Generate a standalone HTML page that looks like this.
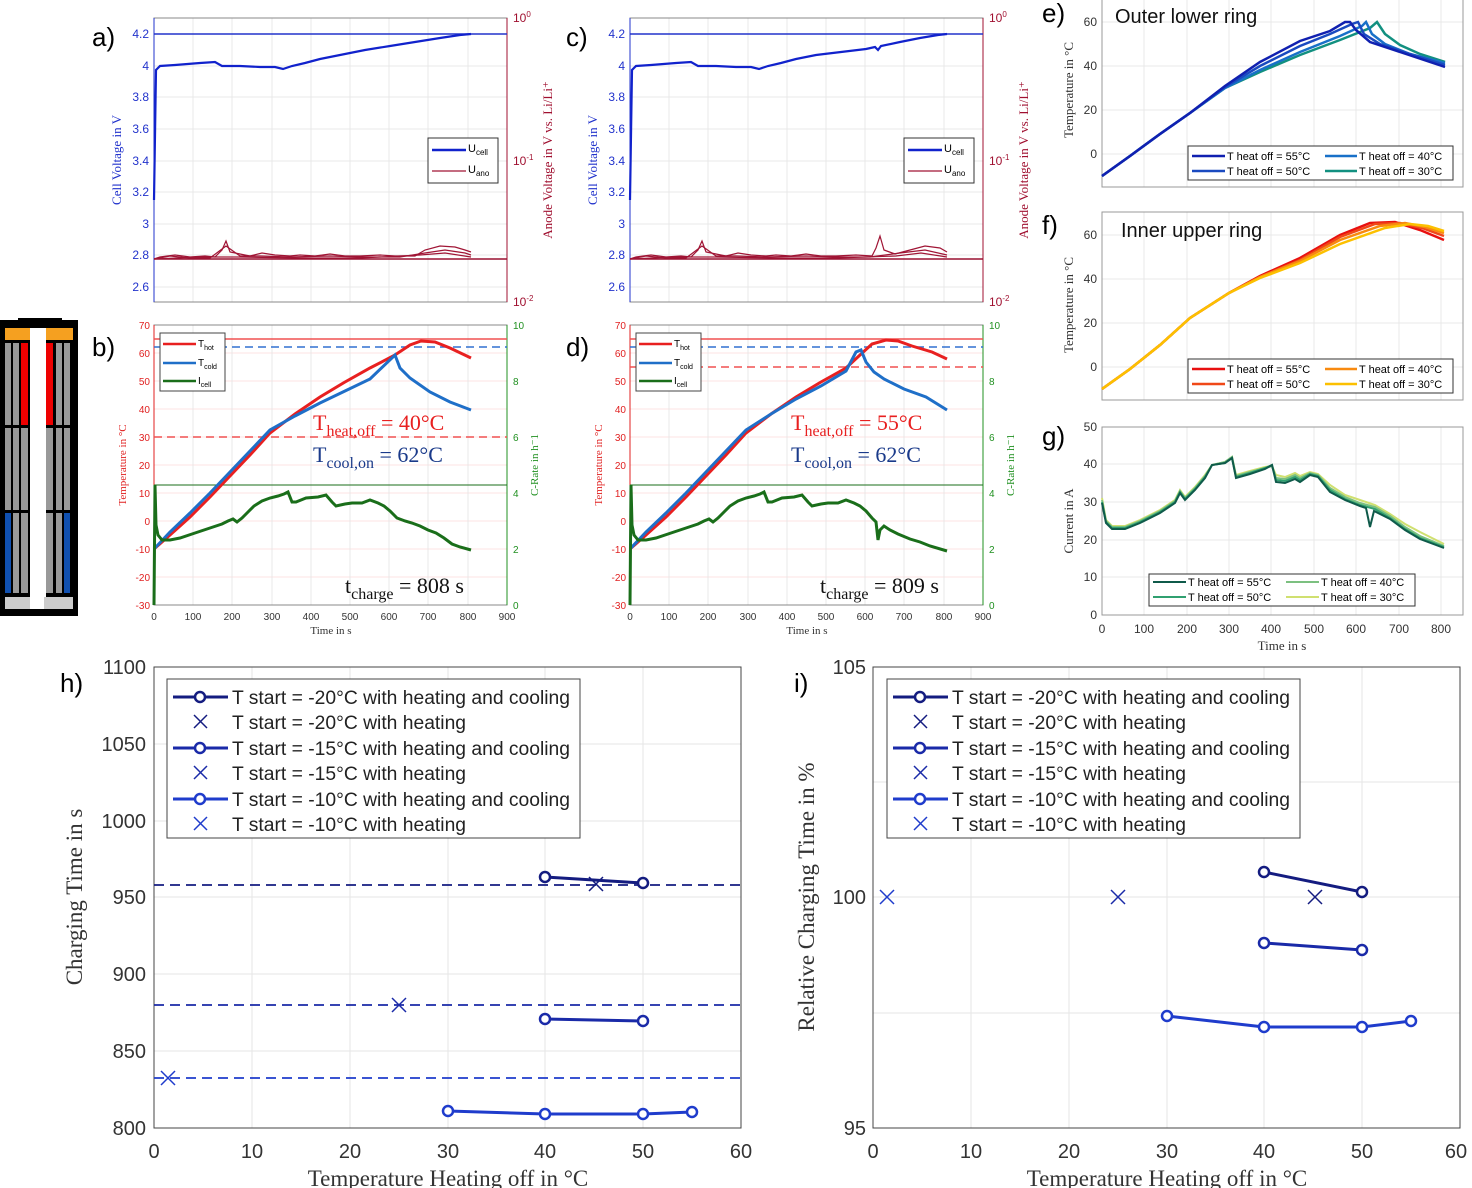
<!DOCTYPE html><html><head><meta charset="utf-8"><style>body{margin:0;background:#fff}svg{display:block;font-family:"Liberation Sans",sans-serif}</style></head><body>
<svg width="1472" height="1188" viewBox="0 0 1472 1188" xmlns="http://www.w3.org/2000/svg">
<!-- battery icon -->
<g>
<rect x="0" y="320" width="78" height="296" fill="#000"/>
<rect x="18" y="318" width="44" height="8" fill="#000"/>
<rect x="5" y="328" width="68" height="12" fill="#f5a020"/>
<rect x="30" y="328" width="16" height="280" fill="#fff"/>
<g fill="#999">
<rect x="5" y="343" width="6" height="82"/><rect x="13" y="343" width="6" height="82"/><rect x="21" y="343" width="7" height="82" fill="#e00"/>
<rect x="46" y="343" width="7" height="82" fill="#e00"/><rect x="56" y="343" width="6" height="82"/><rect x="64" y="343" width="6" height="82"/>
<rect x="5" y="428" width="6" height="82"/><rect x="13" y="428" width="6" height="82"/><rect x="21" y="428" width="7" height="82"/>
<rect x="46" y="428" width="7" height="82"/><rect x="56" y="428" width="6" height="82"/><rect x="64" y="428" width="6" height="82"/>
<rect x="5" y="513" width="6" height="80" fill="#1050b0"/><rect x="13" y="513" width="6" height="80"/><rect x="21" y="513" width="7" height="80"/>
<rect x="46" y="513" width="7" height="80"/><rect x="56" y="513" width="6" height="80"/><rect x="64" y="513" width="6" height="80" fill="#1050b0"/>
</g>
<rect x="5" y="597" width="68" height="12" fill="#ccc"/>
<rect x="30" y="597" width="14" height="12" fill="#fff"/>
</g>

<!-- panel a -->
<g>
<g stroke="#e8e8e8" stroke-width="1">
<path d="M193 18V302M232 18V302M272 18V302M311 18V302M350 18V302M389 18V302M428 18V302M468 18V302"/>
<path d="M154 66H507M154 97H507M154 129H507M154 161H507M154 192H507M154 224H507M154 255H507M154 287H507"/>
</g>
<rect x="154" y="18" width="353" height="284" fill="none" stroke="#888"/>
<line x1="154" y1="18" x2="154" y2="302" stroke="#2233cc"/>
<line x1="507" y1="18" x2="507" y2="302" stroke="#a01030"/>
<g font-size="12" fill="#2233cc" text-anchor="end"><text x="149" y="38">4.2</text><text x="149" y="70">4</text><text x="149" y="101">3.8</text><text x="149" y="133">3.6</text><text x="149" y="165">3.4</text><text x="149" y="196">3.2</text><text x="149" y="228">3</text><text x="149" y="259">2.8</text><text x="149" y="291">2.6</text></g>
<text transform="translate(121,160) rotate(-90)" font-size="13" fill="#2233cc" text-anchor="middle" font-family="Liberation Serif">Cell Voltage in V</text>
<g font-size="12" fill="#a01030"><text x="513" y="22">10<tspan font-size="8" dy="-5">0</tspan></text><text x="513" y="165">10<tspan font-size="8" dy="-5">-1</tspan></text><text x="513" y="306">10<tspan font-size="8" dy="-5">-2</tspan></text></g>
<text transform="translate(552,160) rotate(-90)" font-size="13" fill="#a01030" text-anchor="middle" font-family="Liberation Serif">Anode Voltage in V vs. Li/Li⁺</text>
<line x1="154" y1="34" x2="507" y2="34" stroke="#2233cc" stroke-width="1.5"/>
<polyline fill="none" stroke="#1122cc" stroke-width="2.2" points="154,200 156,70 160,66 175,65 200,63 215,62 222,66 240,66 260,67 275,67 283,69 292,66 305,63 320,59 340,55 365,50 390,46 415,42 440,38 460,35 471,34"/>
<line x1="154" y1="259" x2="507" y2="259" stroke="#9a1030" stroke-width="1.5"/>
<polyline fill="none" stroke="#a01535" stroke-width="1.2" points="154,259 160,257 175,255 190,257 205,256 215,257 222,250 226,241 230,252 240,254 250,256 262,253 275,255 290,256 300,255 315,256 330,254 345,256 360,256 380,255 395,256 415,256 425,250 440,246 455,247 465,250 471,252"/>
<polyline fill="none" stroke="#a01535" stroke-width="1.2" points="154,259 170,256 190,258 210,258 226,246 240,256 260,256 290,257 330,256 360,257 400,257 425,253 445,250 465,253 471,255"/>
<polyline fill="none" stroke="#a01535" stroke-width="1.2" points="154,259 200,257 240,257 300,258 360,258 420,255 445,253 471,257"/>
<rect x="428" y="138" width="70" height="45" fill="#fff" stroke="#333"/>
<line x1="432" y1="150" x2="466" y2="150" stroke="#1122cc" stroke-width="2.5"/><text x="468" y="152" font-size="11">U<tspan font-size="8" dy="3">cell</tspan></text>
<line x1="432" y1="171" x2="466" y2="171" stroke="#a01535" stroke-width="1.2"/><text x="468" y="173" font-size="11">U<tspan font-size="8" dy="3">ano</tspan></text>
</g>
<text x="92" y="46" font-size="26">a)</text>

<!-- panel c -->
<g>
<g stroke="#e8e8e8" stroke-width="1">
<path d="M669 18V302M708 18V302M748 18V302M787 18V302M826 18V302M865 18V302M904 18V302M944 18V302"/>
<path d="M630 66H983M630 97H983M630 129H983M630 161H983M630 192H983M630 224H983M630 255H983M630 287H983"/>
</g>
<rect x="630" y="18" width="353" height="284" fill="none" stroke="#888"/>
<line x1="630" y1="18" x2="630" y2="302" stroke="#2233cc"/>
<line x1="983" y1="18" x2="983" y2="302" stroke="#a01030"/>
<g font-size="12" fill="#2233cc" text-anchor="end"><text x="625" y="38">4.2</text><text x="625" y="70">4</text><text x="625" y="101">3.8</text><text x="625" y="133">3.6</text><text x="625" y="165">3.4</text><text x="625" y="196">3.2</text><text x="625" y="228">3</text><text x="625" y="259">2.8</text><text x="625" y="291">2.6</text></g>
<text transform="translate(597,160) rotate(-90)" font-size="13" fill="#2233cc" text-anchor="middle" font-family="Liberation Serif">Cell Voltage in V</text>
<g font-size="12" fill="#a01030"><text x="989" y="22">10<tspan font-size="8" dy="-5">0</tspan></text><text x="989" y="165">10<tspan font-size="8" dy="-5">-1</tspan></text><text x="989" y="306">10<tspan font-size="8" dy="-5">-2</tspan></text></g>
<text transform="translate(1028,160) rotate(-90)" font-size="13" fill="#a01030" text-anchor="middle" font-family="Liberation Serif">Anode Voltage in V vs. Li/Li⁺</text>
<line x1="630" y1="34" x2="983" y2="34" stroke="#2233cc" stroke-width="1.5"/>
<polyline fill="none" stroke="#1122cc" stroke-width="2.2" points="630,200 632,70 636,66 651,65 676,63 691,62 698,66 716,66 736,67 751,67 759,69 768,66 781,63 796,59 816,55 841,52 866,49 875,47 878,50 881,46 900,42 920,38 938,35 947,34"/>
<line x1="630" y1="259" x2="983" y2="259" stroke="#9a1030" stroke-width="1.5"/>
<polyline fill="none" stroke="#a01535" stroke-width="1.2" points="630,259 636,257 651,255 666,257 681,256 691,257 698,250 702,241 706,252 716,254 726,256 738,253 751,255 766,256 776,255 791,256 806,254 821,256 836,256 856,255 872,256 876,248 880,236 884,250 895,254 910,250 925,246 940,248 947,252"/>
<polyline fill="none" stroke="#a01535" stroke-width="1.2" points="630,259 646,256 666,258 686,258 702,246 716,256 736,256 766,257 806,256 836,257 870,257 900,253 925,250 947,255"/>
<polyline fill="none" stroke="#a01535" stroke-width="1.2" points="630,259 676,257 716,257 776,258 836,258 896,256 921,253 947,257"/>
<rect x="904" y="138" width="70" height="45" fill="#fff" stroke="#333"/>
<line x1="908" y1="150" x2="942" y2="150" stroke="#1122cc" stroke-width="2.5"/><text x="944" y="152" font-size="11">U<tspan font-size="8" dy="3">cell</tspan></text>
<line x1="908" y1="171" x2="942" y2="171" stroke="#a01535" stroke-width="1.2"/><text x="944" y="173" font-size="11">U<tspan font-size="8" dy="3">ano</tspan></text>
</g>
<text x="566" y="46" font-size="26">c)</text>

<!-- panel b -->
<g>
<g stroke="#fde3e3" stroke-width="1">
<path d="M154 353H507M154 381H507M154 409H507M154 437H507M154 465H507M154 493H507M154 521H507M154 549H507M154 577H507"/>
</g>
<g stroke="#e8e8e8"><path d="M193 325V605M232 325V605M272 325V605M311 325V605M350 325V605M389 325V605M428 325V605M468 325V605"/></g>
<rect x="154" y="325" width="353" height="280" fill="none" stroke="#888"/>
<line x1="154" y1="325" x2="154" y2="605" stroke="#e02020"/>
<line x1="507" y1="325" x2="507" y2="605" stroke="#209020"/>
<g font-size="10" fill="#e02020" text-anchor="end"><text x="150" y="329">70</text><text x="150" y="357">60</text><text x="150" y="385">50</text><text x="150" y="413">40</text><text x="150" y="441">30</text><text x="150" y="469">20</text><text x="150" y="497">10</text><text x="150" y="525">0</text><text x="150" y="553">-10</text><text x="150" y="581">-20</text><text x="150" y="609">-30</text></g>
<g font-size="10" fill="#209020"><text x="513" y="329">10</text><text x="513" y="385">8</text><text x="513" y="441">6</text><text x="513" y="497">4</text><text x="513" y="553">2</text><text x="513" y="609">0</text></g>
<g font-size="10" fill="#333" text-anchor="middle"><text x="154" y="620">0</text><text x="193" y="620">100</text><text x="232" y="620">200</text><text x="272" y="620">300</text><text x="311" y="620">400</text><text x="350" y="620">500</text><text x="389" y="620">600</text><text x="428" y="620">700</text><text x="468" y="620">800</text><text x="507" y="620">900</text></g>
<text x="331" y="634" font-size="11" text-anchor="middle" font-family="Liberation Serif" fill="#333">Time in s</text>
<text transform="translate(126,465) rotate(-90)" font-size="11" fill="#e02020" text-anchor="middle" font-family="Liberation Serif">Temperature in °C</text>
<text transform="translate(538,465) rotate(-90)" font-size="11" fill="#209020" text-anchor="middle" font-family="Liberation Serif">C-Rate in h⁻1</text>
<line x1="154" y1="339" x2="507" y2="339" stroke="#f05050" stroke-width="1.5"/>
<line x1="154" y1="347" x2="507" y2="347" stroke="#3070d0" stroke-width="1.5" stroke-dasharray="8,5"/>
<line x1="154" y1="437" x2="507" y2="437" stroke="#f05050" stroke-width="1.5" stroke-dasharray="8,5"/>
<line x1="154" y1="485" x2="507" y2="485" stroke="#1a6e1a" stroke-width="1"/>
<polyline fill="none" stroke="#e82020" stroke-width="3" points="154,549 170,535 190,517 210,497 230,476 250,455 270,433 295,414 320,397 345,382 370,368 395,355 410,345 421,341 435,342 450,348 471,358"/>
<polyline fill="none" stroke="#1f6fc8" stroke-width="3" points="154,549 170,532 190,513 210,493 230,472 250,451 270,430 295,416 320,403 345,391 370,379 395,355 400,368 410,378 430,392 450,402 471,410"/>
<polyline fill="none" stroke="#1a6e1a" stroke-width="3" points="154,605 155,485 156,525 158,535 162,540 170,540 180,538 195,533 210,528 222,524 228,521 233,519 237,522 242,518 248,512 254,506 262,501 270,498 278,496 284,494 288,492 292,502 296,502 306,498 318,497 326,495 332,502 336,506 345,504 352,503 362,503 370,500 378,503 384,506 390,511 397,518 405,521 412,523 420,526 428,530 436,533 444,538 452,544 460,547 471,550"/>
<rect x="160" y="333" width="65" height="58" fill="#fff" stroke="#444"/>
<line x1="163" y1="344" x2="196" y2="344" stroke="#e82020" stroke-width="2.5"/><text x="198" y="347" font-size="10">T<tspan font-size="7" dy="3">hot</tspan></text>
<line x1="163" y1="363" x2="196" y2="363" stroke="#1f6fc8" stroke-width="2.5"/><text x="198" y="366" font-size="10">T<tspan font-size="7" dy="3">cold</tspan></text>
<line x1="163" y1="381" x2="196" y2="381" stroke="#1a6e1a" stroke-width="2.5"/><text x="198" y="384" font-size="10">I<tspan font-size="7" dy="3">cell</tspan></text>
<text x="313" y="430" font-size="22" fill="#e82020" font-family="Liberation Serif">T<tspan font-size="16" dy="6">heat,off</tspan><tspan dy="-6"> = 40°C</tspan></text>
<text x="313" y="462" font-size="22" fill="#1a3a8a" font-family="Liberation Serif">T<tspan font-size="16" dy="6">cool,on</tspan><tspan dy="-6"> = 62°C</tspan></text>
<text x="345" y="593" font-size="22" fill="#111" font-family="Liberation Serif">t<tspan font-size="16" dy="6">charge</tspan><tspan dy="-6"> = 808 s</tspan></text>
</g>
<text x="92" y="356" font-size="26">b)</text>

<!-- panel d -->
<g>
<g stroke="#fde3e3"><path d="M630 353H983M630 381H983M630 409H983M630 437H983M630 465H983M630 493H983M630 521H983M630 549H983M630 577H983"/></g>
<g stroke="#e8e8e8"><path d="M669 325V605M708 325V605M748 325V605M787 325V605M826 325V605M865 325V605M904 325V605M944 325V605"/></g>
<rect x="630" y="325" width="353" height="280" fill="none" stroke="#888"/>
<line x1="630" y1="325" x2="630" y2="605" stroke="#e02020"/>
<line x1="983" y1="325" x2="983" y2="605" stroke="#209020"/>
<g font-size="10" fill="#e02020" text-anchor="end"><text x="626" y="329">70</text><text x="626" y="357">60</text><text x="626" y="385">50</text><text x="626" y="413">40</text><text x="626" y="441">30</text><text x="626" y="469">20</text><text x="626" y="497">10</text><text x="626" y="525">0</text><text x="626" y="553">-10</text><text x="626" y="581">-20</text><text x="626" y="609">-30</text></g>
<g font-size="10" fill="#209020"><text x="989" y="329">10</text><text x="989" y="385">8</text><text x="989" y="441">6</text><text x="989" y="497">4</text><text x="989" y="553">2</text><text x="989" y="609">0</text></g>
<g font-size="10" fill="#333" text-anchor="middle"><text x="630" y="620">0</text><text x="669" y="620">100</text><text x="708" y="620">200</text><text x="748" y="620">300</text><text x="787" y="620">400</text><text x="826" y="620">500</text><text x="865" y="620">600</text><text x="904" y="620">700</text><text x="944" y="620">800</text><text x="983" y="620">900</text></g>
<text x="807" y="634" font-size="11" text-anchor="middle" font-family="Liberation Serif" fill="#333">Time in s</text>
<text transform="translate(602,465) rotate(-90)" font-size="11" fill="#e02020" text-anchor="middle" font-family="Liberation Serif">Temperature in °C</text>
<text transform="translate(1014,465) rotate(-90)" font-size="11" fill="#209020" text-anchor="middle" font-family="Liberation Serif">C-Rate in h⁻1</text>
<line x1="630" y1="339" x2="983" y2="339" stroke="#f05050" stroke-width="1.5"/>
<line x1="630" y1="347" x2="983" y2="347" stroke="#3070d0" stroke-width="1.5" stroke-dasharray="8,5"/>
<line x1="630" y1="367" x2="983" y2="367" stroke="#f05050" stroke-width="1.5" stroke-dasharray="8,5"/>
<line x1="630" y1="485" x2="983" y2="485" stroke="#1a6e1a" stroke-width="1"/>
<polyline fill="none" stroke="#e82020" stroke-width="3" points="630,549 646,535 666,517 686,497 706,476 726,455 746,433 771,414 796,397 821,382 846,368 860,355 872,344 886,340 898,341 912,346 932,352 947,359"/>
<polyline fill="none" stroke="#1f6fc8" stroke-width="3" points="630,549 646,532 666,513 686,493 706,472 726,451 746,430 771,414 796,399 821,386 846,371 856,352 861,350 866,362 874,372 884,379 904,389 926,397 947,410"/>
<polyline fill="none" stroke="#1a6e1a" stroke-width="3" points="630,605 631,485 632,525 634,535 638,540 646,540 656,538 671,533 686,528 698,524 704,521 709,519 713,522 718,518 724,512 730,506 738,501 746,498 754,496 760,494 764,492 768,502 772,502 782,498 794,497 802,495 808,502 812,506 821,504 828,503 838,503 846,500 854,503 860,506 866,511 872,518 876,522 878,540 880,530 884,526 890,530 898,534 910,539 920,542 930,546 947,551"/>
<rect x="636" y="333" width="65" height="58" fill="#fff" stroke="#444"/>
<line x1="639" y1="344" x2="672" y2="344" stroke="#e82020" stroke-width="2.5"/><text x="674" y="347" font-size="10">T<tspan font-size="7" dy="3">hot</tspan></text>
<line x1="639" y1="363" x2="672" y2="363" stroke="#1f6fc8" stroke-width="2.5"/><text x="674" y="366" font-size="10">T<tspan font-size="7" dy="3">cold</tspan></text>
<line x1="639" y1="381" x2="672" y2="381" stroke="#1a6e1a" stroke-width="2.5"/><text x="674" y="384" font-size="10">I<tspan font-size="7" dy="3">cell</tspan></text>
<text x="791" y="430" font-size="22" fill="#e82020" font-family="Liberation Serif">T<tspan font-size="16" dy="6">heat,off</tspan><tspan dy="-6"> = 55°C</tspan></text>
<text x="791" y="462" font-size="22" fill="#1a3a8a" font-family="Liberation Serif">T<tspan font-size="16" dy="6">cool,on</tspan><tspan dy="-6"> = 62°C</tspan></text>
<text x="820" y="593" font-size="22" fill="#111" font-family="Liberation Serif">t<tspan font-size="16" dy="6">charge</tspan><tspan dy="-6"> = 809 s</tspan></text>
</g>
<text x="566" y="356" font-size="26">d)</text>

<!-- panel e -->
<g>
<g stroke="#e8e8e8"><path d="M1144 0V187M1187 0V187M1229 0V187M1271 0V187M1314 0V187M1356 0V187M1399 0V187M1441 0V187M1102 22H1463M1102 66H1463M1102 110H1463M1102 154H1463"/></g>
<rect x="1102" y="-1" width="361" height="188" fill="none" stroke="#999"/>
<g font-size="12" fill="#333" text-anchor="end"><text x="1097" y="26">60</text><text x="1097" y="70">40</text><text x="1097" y="114">20</text><text x="1097" y="158">0</text></g>
<text transform="translate(1073,90) rotate(-90)" font-size="13" fill="#333" text-anchor="middle" font-family="Liberation Serif">Temperature in °C</text>
<polyline fill="none" stroke="#129080" stroke-width="2.5" points="1102,176 1130,156 1160,134 1190,113 1225,88 1260,72 1300,55 1340,40 1370,28 1377,22 1385,34 1400,45 1420,54 1445,62"/>
<polyline fill="none" stroke="#1870c8" stroke-width="2.5" points="1102,176 1130,156 1160,134 1190,113 1225,88 1260,70 1300,52 1340,36 1362,26 1366,22 1372,34 1385,44 1410,54 1445,63"/>
<polyline fill="none" stroke="#1a4ac0" stroke-width="2.5" points="1102,176 1130,156 1160,134 1190,113 1225,87 1260,66 1300,46 1330,34 1352,24 1358,22 1364,34 1380,44 1410,54 1445,65"/>
<polyline fill="none" stroke="#1020b0" stroke-width="2.5" points="1102,176 1130,156 1160,134 1190,113 1225,86 1260,62 1300,41 1330,31 1345,22 1350,22 1356,30 1370,42 1400,52 1445,67"/>
<rect x="1188" y="146" width="265" height="34" fill="#fff" stroke="#333"/>
<line x1="1192" y1="156" x2="1225" y2="156" stroke="#1020b0" stroke-width="2.5"/><text x="1227" y="160" font-size="11">T heat off = 55°C</text>
<line x1="1192" y1="171" x2="1225" y2="171" stroke="#1a4ac0" stroke-width="2.5"/><text x="1227" y="175" font-size="11">T heat off = 50°C</text>
<line x1="1325" y1="156" x2="1357" y2="156" stroke="#1870c8" stroke-width="2.5"/><text x="1359" y="160" font-size="11">T heat off = 40°C</text>
<line x1="1325" y1="171" x2="1357" y2="171" stroke="#129080" stroke-width="2.5"/><text x="1359" y="175" font-size="11">T heat off = 30°C</text>
<text x="1115" y="23" font-size="20" fill="#111">Outer lower ring</text>
</g>
<text x="1042" y="22" font-size="26">e)</text>

<!-- panel f -->
<g>
<g stroke="#e8e8e8"><path d="M1144 212V400M1187 212V400M1229 212V400M1271 212V400M1314 212V400M1356 212V400M1399 212V400M1441 212V400M1102 235H1463M1102 279H1463M1102 323H1463M1102 367H1463"/></g>
<rect x="1102" y="212" width="361" height="188" fill="none" stroke="#999"/>
<g font-size="12" fill="#333" text-anchor="end"><text x="1097" y="239">60</text><text x="1097" y="283">40</text><text x="1097" y="327">20</text><text x="1097" y="371">0</text></g>
<text transform="translate(1073,305) rotate(-90)" font-size="13" fill="#333" text-anchor="middle" font-family="Liberation Serif">Temperature in °C</text>
<polyline fill="none" stroke="#e81010" stroke-width="2.5" points="1102,389 1130,369 1160,345 1190,318 1229,293 1260,276 1300,258 1340,235 1370,223 1395,222 1420,230 1444,240"/>
<polyline fill="none" stroke="#f04818" stroke-width="2.5" points="1102,389 1130,369 1160,345 1190,318 1229,293 1260,277 1300,260 1340,237 1375,224 1400,223 1422,228 1444,236"/>
<polyline fill="none" stroke="#f88a10" stroke-width="2.5" points="1102,389 1130,369 1160,345 1190,318 1229,293 1260,277 1300,261 1340,240 1380,226 1405,223 1425,227 1444,233"/>
<polyline fill="none" stroke="#fcc000" stroke-width="2.5" points="1102,389 1130,369 1160,345 1190,318 1229,293 1260,278 1300,263 1340,244 1385,228 1410,224 1428,226 1444,231"/>
<rect x="1188" y="359" width="265" height="34" fill="#fff" stroke="#333"/>
<line x1="1192" y1="369" x2="1225" y2="369" stroke="#e81010" stroke-width="2.5"/><text x="1227" y="373" font-size="11">T heat off = 55°C</text>
<line x1="1192" y1="384" x2="1225" y2="384" stroke="#f04818" stroke-width="2.5"/><text x="1227" y="388" font-size="11">T heat off = 50°C</text>
<line x1="1325" y1="369" x2="1357" y2="369" stroke="#f88a10" stroke-width="2.5"/><text x="1359" y="373" font-size="11">T heat off = 40°C</text>
<line x1="1325" y1="384" x2="1357" y2="384" stroke="#fcc000" stroke-width="2.5"/><text x="1359" y="388" font-size="11">T heat off = 30°C</text>
<text x="1121" y="237" font-size="20" fill="#111">Inner upper ring</text>
</g>
<text x="1042" y="234" font-size="26">f)</text>

<!-- panel g -->
<g>
<g stroke="#e8e8e8"><path d="M1144 427V615M1187 427V615M1229 427V615M1271 427V615M1314 427V615M1356 427V615M1399 427V615M1441 427V615M1102 464H1463M1102 502H1463M1102 540H1463M1102 577H1463"/></g>
<rect x="1102" y="427" width="361" height="188" fill="none" stroke="#999"/>
<g font-size="12" fill="#333" text-anchor="end"><text x="1097" y="431">50</text><text x="1097" y="468">40</text><text x="1097" y="506">30</text><text x="1097" y="544">20</text><text x="1097" y="581">10</text><text x="1097" y="619">0</text></g>
<g font-size="12" fill="#333" text-anchor="middle"><text x="1102" y="633">0</text><text x="1144" y="633">100</text><text x="1187" y="633">200</text><text x="1229" y="633">300</text><text x="1271" y="633">400</text><text x="1314" y="633">500</text><text x="1356" y="633">600</text><text x="1399" y="633">700</text><text x="1441" y="633">800</text></g>
<text x="1282" y="650" font-size="13" text-anchor="middle" font-family="Liberation Serif" fill="#333">Time in s</text>
<text transform="translate(1073,521) rotate(-90)" font-size="13" fill="#333" text-anchor="middle" font-family="Liberation Serif">Current in A</text>
<polyline fill="none" stroke="#d0e070" stroke-width="2" points="1102,498 1106,520 1112,526 1125,526 1140,520 1160,510 1175,500 1180,490 1185,497 1195,487 1205,475 1212,465 1225,462 1232,457 1236,475 1250,471 1265,467 1272,466 1276,475 1285,477 1295,473 1300,476 1310,472 1318,474 1330,485 1345,495 1360,500 1375,505 1390,514 1405,524 1420,532 1444,544"/>
<polyline fill="none" stroke="#7cc080" stroke-width="2" points="1102,500 1106,521 1112,527 1125,527 1140,521 1160,511 1175,501 1180,491 1185,498 1195,488 1205,476 1212,465 1225,462 1232,457 1236,476 1250,472 1265,468 1272,466 1276,478 1285,479 1295,475 1300,478 1310,473 1318,475 1330,488 1345,497 1360,503 1375,507 1390,516 1405,527 1420,536 1444,546"/>
<polyline fill="none" stroke="#30a070" stroke-width="2" points="1102,502 1106,522 1112,528 1125,528 1140,522 1160,512 1175,502 1180,492 1185,499 1195,489 1205,477 1212,465 1225,463 1232,458 1236,477 1250,473 1265,468 1272,465 1276,480 1285,481 1295,477 1300,480 1310,474 1318,476 1330,490 1345,499 1360,505 1375,509 1390,518 1405,529 1420,538 1444,547"/>
<polyline fill="none" stroke="#0f5a4a" stroke-width="2" points="1102,503 1106,523 1112,529 1125,529 1140,523 1160,513 1175,503 1180,493 1185,500 1195,490 1205,478 1212,465 1225,463 1232,458 1236,478 1250,474 1265,469 1272,465 1276,482 1285,483 1295,479 1300,482 1310,475 1318,477 1330,492 1345,500 1360,506 1366,508 1370,527 1374,511 1390,519 1405,530 1420,539 1444,548"/>
<rect x="1149" y="574" width="266" height="32" fill="#fff" stroke="#333"/>
<line x1="1153" y1="582" x2="1186" y2="582" stroke="#0f5a4a" stroke-width="2"/><text x="1188" y="586" font-size="11">T heat off = 55°C</text>
<line x1="1153" y1="597" x2="1186" y2="597" stroke="#30a070" stroke-width="2"/><text x="1188" y="601" font-size="11">T heat off = 50°C</text>
<line x1="1286" y1="582" x2="1319" y2="582" stroke="#7cc080" stroke-width="2"/><text x="1321" y="586" font-size="11">T heat off = 40°C</text>
<line x1="1286" y1="597" x2="1319" y2="597" stroke="#d0e070" stroke-width="2"/><text x="1321" y="601" font-size="11">T heat off = 30°C</text>
</g>
<text x="1042" y="445" font-size="26">g)</text>

<!-- panel h -->
<g>
<g stroke="#e6e6e6"><path d="M252 667V1128M350 667V1128M448 667V1128M545 667V1128M643 667V1128M154 744H741M154 821H741M154 897H741M154 974H741M154 1051H741"/></g>
<rect x="154" y="667" width="587" height="461" fill="none" stroke="#444"/>
<g font-size="20" fill="#333" text-anchor="end"><text x="146" y="674">1100</text><text x="146" y="751">1050</text><text x="146" y="828">1000</text><text x="146" y="904">950</text><text x="146" y="981">900</text><text x="146" y="1058">850</text><text x="146" y="1135">800</text></g>
<g font-size="20" fill="#333" text-anchor="middle"><text x="154" y="1158">0</text><text x="252" y="1158">10</text><text x="350" y="1158">20</text><text x="448" y="1158">30</text><text x="545" y="1158">40</text><text x="643" y="1158">50</text><text x="741" y="1158">60</text></g>
<text x="448" y="1186" font-size="23" text-anchor="middle" font-family="Liberation Serif" fill="#333">Temperature Heating off in °C</text>
<text transform="translate(82,897) rotate(-90)" font-size="23" fill="#333" text-anchor="middle" font-family="Liberation Serif">Charging Time in s</text>
<g stroke-dasharray="10,6" stroke-width="1.8"><line x1="154" y1="885" x2="741" y2="885" stroke="#141c80"/><line x1="154" y1="1005" x2="741" y2="1005" stroke="#1a2aa8"/><line x1="154" y1="1078" x2="741" y2="1078" stroke="#1f3ccc"/></g>
<g fill="none" stroke-width="3"><polyline stroke="#141c80" points="545,877 643,883"/><polyline stroke="#1a2aa8" points="545,1019 643,1021"/><polyline stroke="#1f3ccc" points="448,1111 545,1114 643,1114 692,1112"/></g>
<g fill="#fff" stroke-width="2.5"><circle cx="545" cy="877" r="5" stroke="#141c80"/><circle cx="643" cy="883" r="5" stroke="#141c80"/><circle cx="545" cy="1019" r="5" stroke="#1a2aa8"/><circle cx="643" cy="1021" r="5" stroke="#1a2aa8"/><circle cx="448" cy="1111" r="5" stroke="#1f3ccc"/><circle cx="545" cy="1114" r="5" stroke="#1f3ccc"/><circle cx="643" cy="1114" r="5" stroke="#1f3ccc"/><circle cx="692" cy="1112" r="5" stroke="#1f3ccc"/></g>
<g stroke-width="1.5"><path d="M589 877l14 14M603 877l-14 14" stroke="#141c80"/><path d="M392 998l14 14M406 998l-14 14" stroke="#1a2aa8"/><path d="M161 1071l14 14M175 1071l-14 14" stroke="#1f3ccc"/></g>
<rect x="167" y="679" width="413" height="159" fill="#fff" stroke="#444"/>
<g font-size="19.3" fill="#222">
<line x1="173" y1="697" x2="228" y2="697" stroke="#141c80" stroke-width="3"/><circle cx="200" cy="697" r="5" fill="#fff" stroke="#141c80" stroke-width="2.5"/><text x="232" y="704">T start = -20°C with heating and cooling</text>
<path d="M194 715l13 13M207 715l-13 13" stroke="#141c80" stroke-width="1.5"/><text x="232" y="729">T start = -20°C with heating</text>
<line x1="173" y1="748" x2="228" y2="748" stroke="#1a2aa8" stroke-width="3"/><circle cx="200" cy="748" r="5" fill="#fff" stroke="#1a2aa8" stroke-width="2.5"/><text x="232" y="755">T start = -15°C with heating and cooling</text>
<path d="M194 766l13 13M207 766l-13 13" stroke="#1a2aa8" stroke-width="1.5"/><text x="232" y="780">T start = -15°C with heating</text>
<line x1="173" y1="799" x2="228" y2="799" stroke="#1f3ccc" stroke-width="3"/><circle cx="200" cy="799" r="5" fill="#fff" stroke="#1f3ccc" stroke-width="2.5"/><text x="232" y="806">T start = -10°C with heating and cooling</text>
<path d="M194 817l13 13M207 817l-13 13" stroke="#1f3ccc" stroke-width="1.5"/><text x="232" y="831">T start = -10°C with heating</text>
</g>
</g>
<text x="60" y="692" font-size="26">h)</text>

<!-- panel i -->
<g>
<g stroke="#e6e6e6"><path d="M971 667V1128M1069 667V1128M1167 667V1128M1264 667V1128M1362 667V1128M873 782H1460M873 897H1460M873 1013H1460"/></g>
<rect x="873" y="667" width="587" height="461" fill="none" stroke="#444"/>
<g font-size="20" fill="#333" text-anchor="end"><text x="866" y="674">105</text><text x="866" y="904">100</text><text x="866" y="1135">95</text></g>
<g font-size="20" fill="#333" text-anchor="middle"><text x="873" y="1158">0</text><text x="971" y="1158">10</text><text x="1069" y="1158">20</text><text x="1167" y="1158">30</text><text x="1264" y="1158">40</text><text x="1362" y="1158">50</text><text x="1456" y="1158">60</text></g>
<text x="1167" y="1186" font-size="23" text-anchor="middle" font-family="Liberation Serif" fill="#333">Temperature Heating off in °C</text>
<text transform="translate(814,897) rotate(-90)" font-size="23" fill="#333" text-anchor="middle" font-family="Liberation Serif">Relative Charging Time in %</text>
<g fill="none" stroke-width="3"><polyline stroke="#141c80" points="1264,872 1362,892"/><polyline stroke="#1a2aa8" points="1264,943 1362,950"/><polyline stroke="#1f3ccc" points="1167,1016 1264,1027 1362,1027 1411,1021"/></g>
<g fill="#fff" stroke-width="2.5"><circle cx="1264" cy="872" r="5" stroke="#141c80"/><circle cx="1362" cy="892" r="5" stroke="#141c80"/><circle cx="1264" cy="943" r="5" stroke="#1a2aa8"/><circle cx="1362" cy="950" r="5" stroke="#1a2aa8"/><circle cx="1167" cy="1016" r="5" stroke="#1f3ccc"/><circle cx="1264" cy="1027" r="5" stroke="#1f3ccc"/><circle cx="1362" cy="1027" r="5" stroke="#1f3ccc"/><circle cx="1411" cy="1021" r="5" stroke="#1f3ccc"/></g>
<g stroke-width="1.5"><path d="M1308 890l14 14M1322 890l-14 14" stroke="#141c80"/><path d="M1111 890l14 14M1125 890l-14 14" stroke="#1a2aa8"/><path d="M880 890l14 14M894 890l-14 14" stroke="#1f3ccc"/></g>
<rect x="887" y="679" width="413" height="159" fill="#fff" stroke="#444"/>
<g font-size="19.3" fill="#222">
<line x1="893" y1="697" x2="948" y2="697" stroke="#141c80" stroke-width="3"/><circle cx="920" cy="697" r="5" fill="#fff" stroke="#141c80" stroke-width="2.5"/><text x="952" y="704">T start = -20°C with heating and cooling</text>
<path d="M914 715l13 13M927 715l-13 13" stroke="#141c80" stroke-width="1.5"/><text x="952" y="729">T start = -20°C with heating</text>
<line x1="893" y1="748" x2="948" y2="748" stroke="#1a2aa8" stroke-width="3"/><circle cx="920" cy="748" r="5" fill="#fff" stroke="#1a2aa8" stroke-width="2.5"/><text x="952" y="755">T start = -15°C with heating and cooling</text>
<path d="M914 766l13 13M927 766l-13 13" stroke="#1a2aa8" stroke-width="1.5"/><text x="952" y="780">T start = -15°C with heating</text>
<line x1="893" y1="799" x2="948" y2="799" stroke="#1f3ccc" stroke-width="3"/><circle cx="920" cy="799" r="5" fill="#fff" stroke="#1f3ccc" stroke-width="2.5"/><text x="952" y="806">T start = -10°C with heating and cooling</text>
<path d="M914 817l13 13M927 817l-13 13" stroke="#1f3ccc" stroke-width="1.5"/><text x="952" y="831">T start = -10°C with heating</text>
</g>
</g>
<text x="794" y="692" font-size="26">i)</text>
</svg>
</body></html>
